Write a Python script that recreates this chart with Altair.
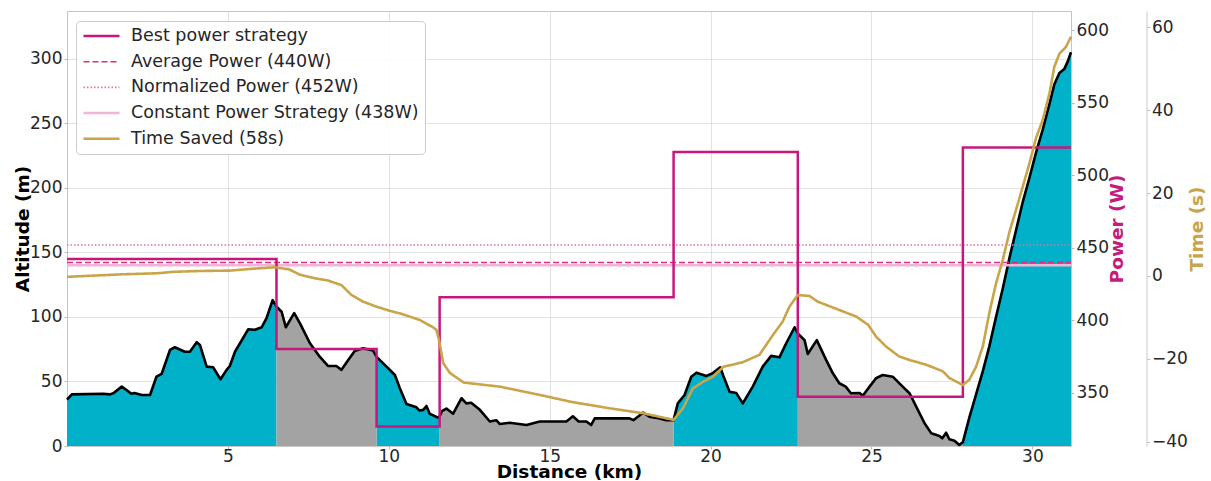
import altair as alt
import pandas as pd

# Elevation profile along the course
profile_km = [0.0, 0.15, 1.12, 1.34, 1.45, 1.7, 1.85, 2.0, 2.1, 2.32, 2.58, 2.78, 2.94, 3.2, 3.35,
              3.66, 3.82, 4.03, 4.13, 4.34, 4.54, 4.77, 4.96, 5.06, 5.22, 5.63, 5.84, 6.05, 6.2, 6.39,
              6.51, 6.67, 6.8, 7.06, 7.24, 7.55, 7.86, 8.11, 8.37, 8.53, 8.74, 8.94, 9.2, 9.51,
              9.62, 9.93, 10.19, 10.34, 10.55, 10.86, 10.95, 11.07, 11.17, 11.27, 11.53,
              11.58, 11.65, 11.79, 12.0, 12.26, 12.41, 12.56, 12.83, 13.14, 13.34, 13.45, 13.76, 14.28,
              14.69, 15.05, 15.52, 15.72, 15.9, 16.14, 16.29, 16.4, 16.86, 17.48, 17.6, 17.9, 18.1,
              18.42, 18.62, 18.85, 18.98, 19.19, 19.4, 19.56, 19.87, 20.07, 20.3, 20.4, 20.59, 20.8,
              21.0, 21.31, 21.62, 21.88, 22.14, 22.35, 22.61, 22.71, 22.92, 23.02, 23.3, 23.59, 23.8,
              24.0, 24.2, 24.36, 24.63, 24.73, 24.94, 25.14, 25.35, 25.66, 25.97, 26.18, 26.28, 26.39,
              26.65, 26.86, 27.11, 27.2, 27.32, 27.42, 27.58, 27.73, 27.84, 28.04, 28.25, 28.46,
              28.66, 28.87, 29.08, 29.29, 29.49, 29.7, 29.91, 30.11, 30.32, 30.53, 30.68, 30.84,
              30.99, 31.1, 31.2]
profile_alt = [36, 40, 40.5, 40, 41, 46, 43.4, 40.5, 41, 39.5, 39.5, 53.7, 55.8, 74.4, 76.5,
               73, 73, 80.4, 78.3, 61.5, 61, 51.7, 59, 62, 73, 90.4, 90, 92, 99, 113,
               108, 104, 92, 103, 95, 79.6, 69, 62, 62, 59, 66.7, 73.6, 75.7, 74,
               69, 61.5, 55, 45, 32.5, 30, 27.5, 28, 31, 25, 22,
               23, 27, 29, 25, 37, 33, 33.5, 28, 19, 20, 17, 18, 16.3,
               19, 19, 19, 23, 19, 19, 16.3, 21.4, 21.4, 21.4, 20, 25.8, 22.7,
               21.4, 20, 20, 33, 39.5, 53.7, 56.8, 54.3, 56.5, 61, 54, 42, 41,
               33, 46, 61.5, 69.8, 68.7, 79.6, 92, 87.3, 82, 71.3, 82, 66.7, 56.3,
               48.6, 46, 40.9, 41, 39, 46, 52.5, 55, 53.7, 46, 40.9, 36, 30.5,
               17.6, 9.8, 7.8, 6, 10.3, 5.2, 4, 0.8, 3, 22, 40, 58,
               77, 100, 122, 146, 167, 189, 208, 227, 245, 265, 280, 289,
               292, 298, 305]

# Pacing plan: segment bounds (km) and target power (W)
seg_start = [0.0, 6.51, 9.62, 11.58, 18.85, 22.71, 27.84]
seg_end = [6.51, 9.62, 11.58, 18.85, 22.71, 27.84, 31.2]
seg_power = [442.4, 380.3, 326.8, 416.0, 516.2, 347.4, 519.2]

avg_power = 440
norm_power = 452
const_power = 438

# Cumulative time saved against the constant-power plan (s)
time_km = [0.0, 1.7, 2.8, 3.3, 4.13, 5.06, 5.68, 6.45, 6.9, 7.24, 7.7, 8.11, 8.53, 8.84, 9.2,
           9.62, 10.03, 10.34, 10.96, 11.38, 11.48, 11.56, 11.69, 11.9, 12.33, 13.46, 14.7,
           15.7, 16.86, 17.9, 18.85, 19.14, 19.45, 19.77, 20.07, 20.4, 21.0, 21.52, 21.94,
           22.24, 22.45, 22.71, 23.07, 23.33, 24.0, 24.53, 24.9, 25.14, 25.45, 25.86, 26.2,
           26.7, 27.22, 27.42, 27.84, 28.04, 28.25, 28.46, 28.66, 28.87, 29.08, 29.29, 29.49,
           29.7, 29.91, 30.11, 30.32, 30.53, 30.68, 30.84, 31.04, 31.2]
time_saved = [-0.2, 0.4, 0.65, 1.0, 1.2, 1.3, 1.7, 2.1, 1.6, 0.3, -0.55, -1.1, -2.2, -4.6, -6.2,
              -7.4, -8.4, -9.0, -10.6, -12.4, -13, -15.4, -21, -23.4, -25.7, -26.7, -28.7,
              -30.4, -31.9, -33.1, -34.7, -31.9, -27.1, -25.5, -24.3, -21.9, -20.8, -19, -14.2,
              -11, -7.4, -4.6, -4.8, -6.2, -8.2, -9.8, -11.8, -14.6, -17, -19.4, -20.3,
              -21.4, -23, -24.6, -26.3, -25, -21.9, -17, -9, -1.8, 3.9, 10.7, 15.9,
              21.5, 27.2, 33.2, 37.6, 44, 50.4, 53.6, 55.2, 57.7]

series_names = ["Best power strategy", "Average Power (440W)", "Normalized Power (452W)",
                "Constant Power Strategy (438W)", "Time Saved (58s)"]
series_colors = ["#c8177c", "#d6307f", "#e070ae", "#f3b4d6", "#c9a449"]
series_dash = [[1, 0], [6, 3], [1.5, 2], [1, 0], [1, 0]]
series_width = [2.5, 1.6, 1.6, 2.5, 2.6]

course_end = seg_end[-1]
FONT = "DejaVu Sans"
BLUE = "#00b1c9"
GREY = "#a3a3a3"

# Elevation rows, split per pacing segment so each one fills separately
elev_rows = []
for i, (a, b) in enumerate(zip(seg_start, seg_end)):
    for k, h in zip(profile_km, profile_alt):
        if a <= k <= b:
            elev_rows.append({"seg": i, "shade": "even" if i % 2 == 0 else "odd", "km": k, "alt": h})
elev = pd.DataFrame(elev_rows)
outline = pd.DataFrame({"km": profile_km, "alt": profile_alt})

power_rows = []
for name, val in [(series_names[3], const_power), (series_names[1], avg_power),
                  (series_names[2], norm_power)]:
    power_rows.append({"series": name, "km": 0.0, "power": val})
    power_rows.append({"series": name, "km": course_end, "power": val})
for k, p in zip(seg_start + [course_end], seg_power + [seg_power[-1]]):
    power_rows.append({"series": series_names[0], "km": k, "power": p})
power = pd.DataFrame(power_rows)

saved = pd.DataFrame({"series": series_names[4], "km": time_km, "time": time_saved})

x_axis = alt.Axis(values=[5, 10, 15, 20, 25, 30], title="Distance (km)", grid=True,
                  titleY=16, titleBaseline="top", labelPadding=-1, labelFlush=False)
x_enc = alt.X("km:Q", scale=alt.Scale(domain=[0, course_end], nice=False, zero=False), axis=x_axis)

alt_axis = alt.Axis(values=list(range(0, 301, 50)), title="Altitude (m)", grid=True,
                    titleX=-45, titleY=217.5, titleAngle=270, titleAlign="center",
                    titleBaseline="middle", labelFlush=False)
alt_y = alt.Y("alt:Q", scale=alt.Scale(domain=[0, 337], nice=False), axis=alt_axis, stack=None)

legend = alt.Legend(title=None, orient="none", legendX=9, legendY=10, symbolType="stroke",
                    symbolSize=1296, clipHeight=18, labelFontSize=17.5, labelOffset=10,
                    rowPadding=7.7, padding=6, fillColor="#ffffffe6", strokeColor="#cccccc",
                    cornerRadius=4, labelColor="#262626", labelLimit=500, labelFont=FONT)
color_enc = alt.Color("series:N", scale=alt.Scale(domain=series_names, range=series_colors), legend=legend)
dash_enc = alt.StrokeDash("series:N", scale=alt.Scale(type="ordinal", domain=series_names, range=series_dash),
                          legend=legend)
width_enc = alt.StrokeWidth("series:N", scale=alt.Scale(type="ordinal", domain=series_names, range=series_width),
                            legend=legend)

fill_even = alt.Chart(elev).mark_area(color=BLUE).encode(
    x=x_enc, y=alt_y, detail="seg:N").transform_filter(alt.datum.shade == "even")
fill_odd = alt.Chart(elev).mark_area(color=GREY).encode(
    x=x_enc, y=alt_y, detail="seg:N").transform_filter(alt.datum.shade == "odd")
ridge = alt.Chart(outline).mark_line(color="black", strokeWidth=2.6, strokeJoin="round").encode(
    x=x_enc, y=alt_y)
terrain = alt.layer(fill_even, fill_odd, ridge)

power_axis = alt.Axis(orient="right", values=list(range(350, 601, 50)), title="Power (W)",
                      titleColor="#c51b7d", grid=False, domain=False, titleX=45, titleY=217.5,
                      titleAngle=270, titleAlign="center", titleBaseline="middle", labelFlush=False)
power_lines = alt.Chart(power).mark_line(interpolate="step-after").encode(
    x=x_enc,
    y=alt.Y("power:Q", scale=alt.Scale(domain=[313.4, 613.4], nice=False, zero=False), axis=power_axis),
    color=color_enc, strokeDash=dash_enc, strokeWidth=width_enc,
)

time_axis = alt.Axis(orient="right", offset=75.5, values=list(range(-40, 61, 20)), title="Time (s)",
                     titleColor="#c9a449", grid=False, domain=True, domainColor="#cccccc",
                     titleX=50, titleY=217.5, titleAngle=270, titleAlign="center",
                     titleBaseline="middle", labelFlush=False)
saved_line = alt.Chart(saved).mark_line(strokeJoin="round").encode(
    x=x_enc,
    y=alt.Y("time:Q", scale=alt.Scale(domain=[-41, 63.9], nice=False, zero=False), axis=time_axis),
    color=color_enc, strokeDash=dash_enc, strokeWidth=width_enc,
)

chart = alt.layer(terrain, power_lines, saved_line).resolve_scale(
    y="independent"
).properties(
    width=1004, height=435,
    padding={"left": 67, "top": 11, "right": 140, "bottom": 35},
    autosize=alt.AutoSizeParams(type="none"),
).configure_view(
    stroke="#c4c4c4", strokeWidth=1
).configure_axis(
    labelFont=FONT, labelFontSize=17, labelColor="#262626", labelPadding=2,
    titleFont=FONT, titleFontSize=18.5, titleFontWeight="bold", titleColor="black",
    tickSize=3, tickColor="#bbbbbb", domain=False,
    gridColor="#cfcfcf", gridOpacity=0.6, gridWidth=1, zindex=1,
)

chart.save("out.html", embed_options={"renderer": "svg", "actions": False})
